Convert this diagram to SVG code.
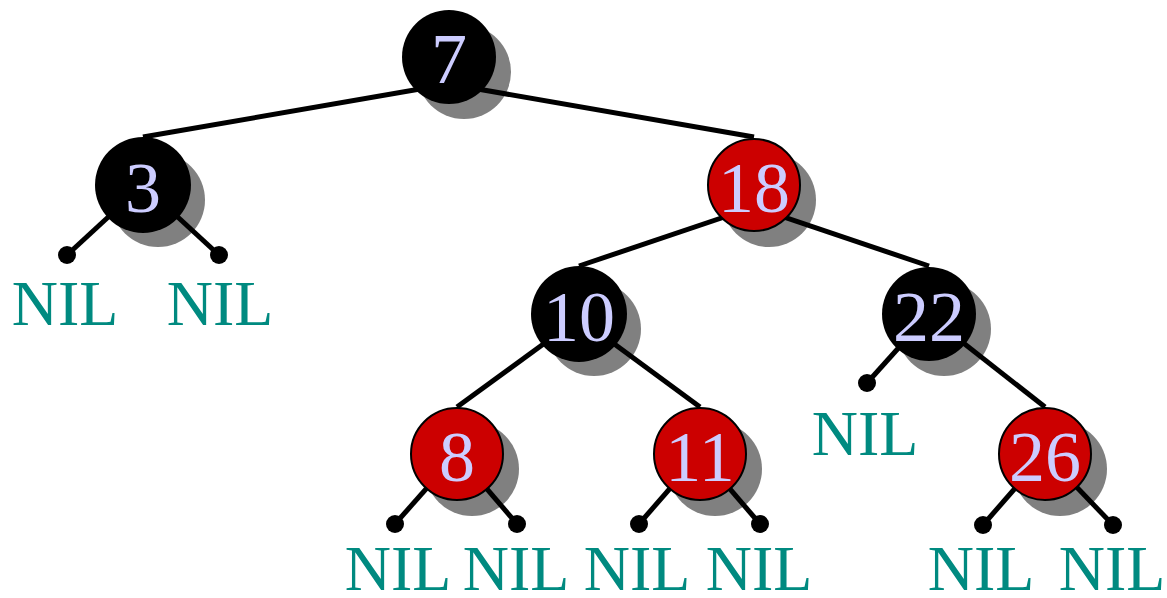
<svg xmlns="http://www.w3.org/2000/svg" width="1167" height="598" viewBox="0 0 1167 598">
  <style>
    .shadow { fill: #808080; }
    .black { fill: #000000; }
    .red { fill: #CC0000; stroke: #000000; stroke-width: 2; }
    .edge { stroke: #000000; stroke-width: 5; fill: none; }
    .dot { fill: #000000; }
    .key { font-family: "Liberation Serif", "Times New Roman", serif; font-size: 72px; fill: #CCCCFF; text-anchor: middle; }
    .nil { font-family: "Liberation Serif", "Times New Roman", serif; font-size: 64px; fill: #008A80; text-anchor: middle; }
  </style>
  <rect width="1167" height="598" fill="#ffffff"/>

  <!-- drop shadows (behind connectors) -->
  <g id="shadows">
    <circle class="shadow" cx="464" cy="72" r="47"/>
    <circle class="shadow" cx="158" cy="200" r="47"/>
    <circle class="shadow" cx="769" cy="200" r="47"/>
    <circle class="shadow" cx="594" cy="329" r="47"/>
    <circle class="shadow" cx="944" cy="329" r="47"/>
    <circle class="shadow" cx="472" cy="469" r="47"/>
    <circle class="shadow" cx="715" cy="469" r="47"/>
    <circle class="shadow" cx="1060" cy="469" r="47"/>
  </g>

  <!-- tree edges and NIL leaf stubs -->
  <g id="connectors">
    <line class="edge" x1="449" y1="84" x2="143" y2="137"/>
    <line class="edge" x1="449" y1="84" x2="754" y2="137"/>
    <line class="edge" x1="754" y1="207" x2="579" y2="266"/>
    <line class="edge" x1="754" y1="207" x2="929" y2="266"/>
    <line class="edge" x1="579" y1="318" x2="457" y2="407"/>
    <line class="edge" x1="579" y1="318" x2="700" y2="407"/>
    <line class="edge" x1="929" y1="316" x2="1045" y2="407"/>

    <line class="edge" x1="143" y1="185" x2="67" y2="255"/>
    <line class="edge" x1="143" y1="185" x2="219" y2="255"/>
    <line class="edge" x1="929" y1="314" x2="867" y2="383"/>
    <line class="edge" x1="457" y1="454" x2="395" y2="524"/>
    <line class="edge" x1="457" y1="454" x2="517" y2="524"/>
    <line class="edge" x1="700" y1="454" x2="639" y2="524"/>
    <line class="edge" x1="700" y1="454" x2="760" y2="524"/>
    <line class="edge" x1="1045" y1="454" x2="983" y2="525"/>
    <line class="edge" x1="1045" y1="454" x2="1113" y2="525"/>

    <circle class="dot" cx="67" cy="255" r="9"/>
    <circle class="dot" cx="219" cy="255" r="9"/>
    <circle class="dot" cx="867" cy="383" r="9"/>
    <circle class="dot" cx="395" cy="524" r="9"/>
    <circle class="dot" cx="517" cy="524" r="9"/>
    <circle class="dot" cx="639" cy="524" r="9"/>
    <circle class="dot" cx="760" cy="524" r="9"/>
    <circle class="dot" cx="983" cy="525" r="9"/>
    <circle class="dot" cx="1113" cy="525" r="9"/>
  </g>

  <!-- nodes -->
  <g id="node-7">
    <circle class="black" cx="449" cy="57" r="47"/>
    <text class="key" x="449" y="83">7</text>
  </g>
  <g id="node-3">
    <circle class="black" cx="143" cy="185" r="48"/>
    <text class="key" x="143" y="212">3</text>
  </g>
  <g id="node-18">
    <circle class="red" cx="754" cy="185" r="46"/>
    <text class="key" x="754" y="212">18</text>
  </g>
  <g id="node-10">
    <circle class="black" cx="579" cy="314" r="48"/>
    <text class="key" x="579" y="341">10</text>
  </g>
  <g id="node-22">
    <circle class="black" cx="929" cy="314" r="47"/>
    <text class="key" x="929" y="341">22</text>
  </g>
  <g id="node-8">
    <circle class="red" cx="457" cy="454" r="46"/>
    <text class="key" x="457" y="481">8</text>
  </g>
  <g id="node-11">
    <circle class="red" cx="700" cy="454" r="46"/>
    <text class="key" x="700" y="481">11</text>
  </g>
  <g id="node-26">
    <circle class="red" cx="1045" cy="454" r="46"/>
    <text class="key" x="1045" y="481">26</text>
  </g>

  <!-- NIL leaf labels -->
  <g id="nil-labels">
    <text class="nil" x="65" y="325">NIL</text>
    <text class="nil" x="220" y="325">NIL</text>
    <text class="nil" x="865" y="455">NIL</text>
    <text class="nil" x="398" y="590">NIL</text>
    <text class="nil" x="516" y="590">NIL</text>
    <text class="nil" x="637" y="590">NIL</text>
    <text class="nil" x="759" y="590">NIL</text>
    <text class="nil" x="981" y="590">NIL</text>
    <text class="nil" x="1112" y="590">NIL</text>
  </g>
</svg>
